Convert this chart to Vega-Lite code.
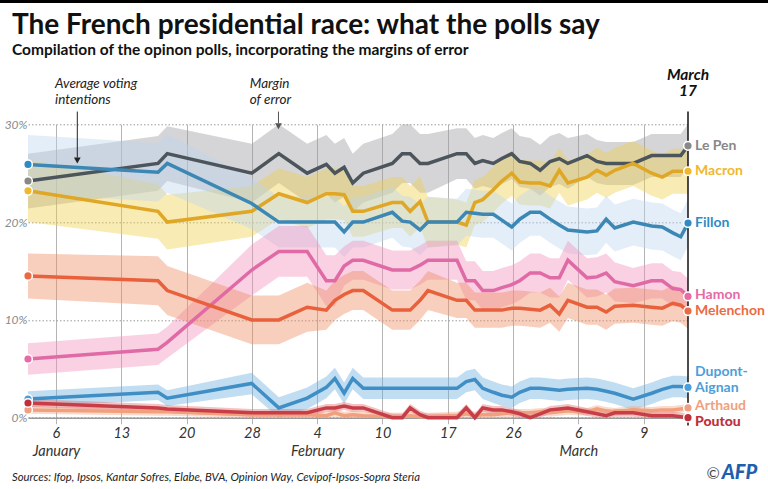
{
"$schema":"https://vega.github.io/schema/vega-lite/v6.json",
"autosize":{"type":"none"},
"width":660,"height":293.4,
"padding":{"left":28,"top":124.3,"right":80,"bottom":71.3},
"background":"white",
"title":{"text":"The French presidential race: what the polls say","subtitle":"Compilation of the opinon polls, incorporating the margins of error","anchor":"start","frame":"group","dx":-16,"offset":-59,"font":"Lato","fontSize":28,"fontWeight":"bold","color":"#111","subtitleFont":"Lato","subtitleFontSize":15.5,"subtitleFontWeight":"bold","subtitleColor":"#111","subtitlePadding":3},
"config":{"view":{"stroke":null},"font":"Lato"},
"datasets":{
"polls":[
{"c":"Le Pen","t":0,"v":24.2,"lo":21.4,"hi":27},
{"c":"Le Pen","t":19.7,"v":26,"lo":23.2,"hi":28.8},
{"c":"Le Pen","t":21.1,"v":27,"lo":24.2,"hi":29.8},
{"c":"Le Pen","t":33.9,"v":25,"lo":22,"hi":28},
{"c":"Le Pen","t":38,"v":27,"lo":24,"hi":30},
{"c":"Le Pen","t":42.3,"v":25,"lo":22,"hi":28},
{"c":"Le Pen","t":45.2,"v":25.9,"lo":22.9,"hi":28.9},
{"c":"Le Pen","t":46.5,"v":25,"lo":22,"hi":28},
{"c":"Le Pen","t":47.9,"v":25.6,"lo":22.6,"hi":28.6},
{"c":"Le Pen","t":49.2,"v":24,"lo":21,"hi":27},
{"c":"Le Pen","t":50.8,"v":25,"lo":22,"hi":28},
{"c":"Le Pen","t":55.2,"v":26,"lo":23,"hi":29},
{"c":"Le Pen","t":56.7,"v":27,"lo":24,"hi":30},
{"c":"Le Pen","t":57.9,"v":27,"lo":24,"hi":30},
{"c":"Le Pen","t":59.4,"v":26,"lo":23,"hi":29},
{"c":"Le Pen","t":60.6,"v":26,"lo":23,"hi":29},
{"c":"Le Pen","t":65,"v":27,"lo":24.4,"hi":29.6},
{"c":"Le Pen","t":66.4,"v":27,"lo":24.4,"hi":29.6},
{"c":"Le Pen","t":67.7,"v":26,"lo":23.4,"hi":28.6},
{"c":"Le Pen","t":68.9,"v":26.3,"lo":23.7,"hi":28.9},
{"c":"Le Pen","t":70.5,"v":26,"lo":23.4,"hi":28.6},
{"c":"Le Pen","t":71.8,"v":26.5,"lo":23.9,"hi":29.1},
{"c":"Le Pen","t":73.3,"v":27,"lo":24.4,"hi":29.6},
{"c":"Le Pen","t":74.5,"v":26.2,"lo":23.6,"hi":28.8},
{"c":"Le Pen","t":76.1,"v":26,"lo":23.4,"hi":28.6},
{"c":"Le Pen","t":77.6,"v":25.3,"lo":22.7,"hi":27.9},
{"c":"Le Pen","t":79.1,"v":26.2,"lo":23.6,"hi":28.8},
{"c":"Le Pen","t":80.5,"v":26.5,"lo":23.9,"hi":29.1},
{"c":"Le Pen","t":81.8,"v":26,"lo":23.4,"hi":28.6},
{"c":"Le Pen","t":84.7,"v":26.8,"lo":24.6,"hi":29},
{"c":"Le Pen","t":86.2,"v":26.2,"lo":24,"hi":28.4},
{"c":"Le Pen","t":87.6,"v":26,"lo":23.8,"hi":28.2},
{"c":"Le Pen","t":88.9,"v":26,"lo":23.8,"hi":28.2},
{"c":"Le Pen","t":91.7,"v":26,"lo":23.8,"hi":28.2},
{"c":"Le Pen","t":94.5,"v":26.8,"lo":24.6,"hi":29},
{"c":"Le Pen","t":96.1,"v":26.8,"lo":24.6,"hi":29},
{"c":"Le Pen","t":97.7,"v":26.8,"lo":24.6,"hi":29},
{"c":"Le Pen","t":98.9,"v":26.8,"lo":24.6,"hi":29},
{"c":"Le Pen","t":100,"v":27.8,"lo":25.6,"hi":30},
{"c":"Macron","t":0,"v":23.2,"lo":20,"hi":26.4},
{"c":"Macron","t":19.7,"v":21.1,"lo":18.3,"hi":23.9},
{"c":"Macron","t":21.1,"v":20,"lo":17.2,"hi":22.8},
{"c":"Macron","t":33.9,"v":21.1,"lo":18.5,"hi":23.7},
{"c":"Macron","t":38,"v":22.9,"lo":20.3,"hi":25.5},
{"c":"Macron","t":42.3,"v":22,"lo":19.4,"hi":24.6},
{"c":"Macron","t":45.2,"v":22.9,"lo":20.3,"hi":25.5},
{"c":"Macron","t":46.5,"v":22.9,"lo":20.3,"hi":25.5},
{"c":"Macron","t":47.9,"v":22.8,"lo":20.2,"hi":25.4},
{"c":"Macron","t":49.2,"v":21.1,"lo":18.5,"hi":23.7},
{"c":"Macron","t":50.8,"v":21.1,"lo":18.5,"hi":23.7},
{"c":"Macron","t":55.2,"v":22,"lo":19.4,"hi":24.6},
{"c":"Macron","t":56.7,"v":22,"lo":19.4,"hi":24.6},
{"c":"Macron","t":57.9,"v":21.1,"lo":18.5,"hi":23.7},
{"c":"Macron","t":59.4,"v":22.1,"lo":19.5,"hi":24.7},
{"c":"Macron","t":60.6,"v":20,"lo":17.4,"hi":22.6},
{"c":"Macron","t":65,"v":20,"lo":17.7,"hi":22.3},
{"c":"Macron","t":66.4,"v":19.7,"lo":17.4,"hi":22},
{"c":"Macron","t":67.7,"v":22,"lo":19.7,"hi":24.3},
{"c":"Macron","t":68.9,"v":22.3,"lo":20,"hi":24.6},
{"c":"Macron","t":70.5,"v":23.3,"lo":21,"hi":25.6},
{"c":"Macron","t":71.8,"v":24.2,"lo":21.9,"hi":26.5},
{"c":"Macron","t":73.3,"v":25,"lo":22.7,"hi":27.3},
{"c":"Macron","t":74.5,"v":24.1,"lo":21.8,"hi":26.4},
{"c":"Macron","t":76.1,"v":24,"lo":21.7,"hi":26.3},
{"c":"Macron","t":77.6,"v":24,"lo":21.7,"hi":26.3},
{"c":"Macron","t":79.1,"v":23.7,"lo":21.4,"hi":26},
{"c":"Macron","t":80.5,"v":25.3,"lo":23,"hi":27.6},
{"c":"Macron","t":81.8,"v":24,"lo":21.7,"hi":26.3},
{"c":"Macron","t":84.7,"v":24.6,"lo":22.3,"hi":26.9},
{"c":"Macron","t":86.2,"v":25.3,"lo":23,"hi":27.6},
{"c":"Macron","t":87.6,"v":24.8,"lo":22.5,"hi":27.1},
{"c":"Macron","t":88.9,"v":25.3,"lo":23,"hi":27.6},
{"c":"Macron","t":91.7,"v":26,"lo":23.7,"hi":28.3},
{"c":"Macron","t":94.5,"v":25,"lo":22.7,"hi":27.3},
{"c":"Macron","t":96.1,"v":24.6,"lo":22.3,"hi":26.9},
{"c":"Macron","t":97.7,"v":25.2,"lo":22.9,"hi":27.5},
{"c":"Macron","t":98.9,"v":25.2,"lo":22.9,"hi":27.5},
{"c":"Macron","t":100,"v":25.2,"lo":22.9,"hi":27.5},
{"c":"Fillon","t":0,"v":25.9,"lo":22.9,"hi":28.9},
{"c":"Fillon","t":19.7,"v":25.1,"lo":22.1,"hi":28.1},
{"c":"Fillon","t":21.1,"v":26,"lo":23,"hi":29},
{"c":"Fillon","t":33.9,"v":21.9,"lo":19.3,"hi":24.5},
{"c":"Fillon","t":38,"v":20,"lo":17.4,"hi":22.6},
{"c":"Fillon","t":42.3,"v":20,"lo":17.4,"hi":22.6},
{"c":"Fillon","t":45.2,"v":20,"lo":17.4,"hi":22.6},
{"c":"Fillon","t":46.5,"v":20,"lo":17.4,"hi":22.6},
{"c":"Fillon","t":47.9,"v":19,"lo":16.4,"hi":21.6},
{"c":"Fillon","t":49.2,"v":20,"lo":17.4,"hi":22.6},
{"c":"Fillon","t":50.8,"v":20,"lo":17.4,"hi":22.6},
{"c":"Fillon","t":55.2,"v":21,"lo":18.4,"hi":23.6},
{"c":"Fillon","t":56.7,"v":20.1,"lo":17.5,"hi":22.7},
{"c":"Fillon","t":57.9,"v":20,"lo":17.4,"hi":22.6},
{"c":"Fillon","t":59.4,"v":19.2,"lo":16.6,"hi":21.8},
{"c":"Fillon","t":60.6,"v":20,"lo":17.4,"hi":22.6},
{"c":"Fillon","t":65,"v":20,"lo":17.6,"hi":22.4},
{"c":"Fillon","t":66.4,"v":21,"lo":18.6,"hi":23.4},
{"c":"Fillon","t":67.7,"v":20.9,"lo":18.5,"hi":23.3},
{"c":"Fillon","t":68.9,"v":20.8,"lo":18.4,"hi":23.2},
{"c":"Fillon","t":70.5,"v":20.8,"lo":18.4,"hi":23.2},
{"c":"Fillon","t":71.8,"v":20.2,"lo":17.8,"hi":22.6},
{"c":"Fillon","t":73.3,"v":19.5,"lo":17.1,"hi":21.9},
{"c":"Fillon","t":74.5,"v":20.3,"lo":17.9,"hi":22.7},
{"c":"Fillon","t":76.1,"v":21,"lo":18.6,"hi":23.4},
{"c":"Fillon","t":77.6,"v":21,"lo":18.6,"hi":23.4},
{"c":"Fillon","t":79.1,"v":20.3,"lo":17.9,"hi":22.7},
{"c":"Fillon","t":80.5,"v":19.7,"lo":17.3,"hi":22.1},
{"c":"Fillon","t":81.8,"v":19.2,"lo":16.8,"hi":21.6},
{"c":"Fillon","t":84.7,"v":19,"lo":16.6,"hi":21.4},
{"c":"Fillon","t":86.2,"v":19.1,"lo":16.7,"hi":21.5},
{"c":"Fillon","t":87.6,"v":20.3,"lo":17.9,"hi":22.7},
{"c":"Fillon","t":88.9,"v":19.4,"lo":17,"hi":21.8},
{"c":"Fillon","t":91.7,"v":20,"lo":17.6,"hi":22.4},
{"c":"Fillon","t":94.5,"v":19.6,"lo":17.2,"hi":22},
{"c":"Fillon","t":96.1,"v":19.5,"lo":17.1,"hi":21.9},
{"c":"Fillon","t":97.7,"v":18.9,"lo":16.5,"hi":21.3},
{"c":"Fillon","t":98.9,"v":18.5,"lo":16.1,"hi":20.9},
{"c":"Fillon","t":100,"v":19.9,"lo":17.5,"hi":22.3},
{"c":"Hamon","t":0,"v":6,"lo":4.4,"hi":7.6},
{"c":"Hamon","t":19.7,"v":7,"lo":5.4,"hi":8.6},
{"c":"Hamon","t":21.1,"v":7.7,"lo":6.1,"hi":9.3},
{"c":"Hamon","t":33.9,"v":15.1,"lo":12.5,"hi":17.7},
{"c":"Hamon","t":38,"v":17,"lo":14.4,"hi":19.6},
{"c":"Hamon","t":42.3,"v":17,"lo":14.4,"hi":19.6},
{"c":"Hamon","t":45.2,"v":14,"lo":11.4,"hi":16.6},
{"c":"Hamon","t":46.5,"v":14,"lo":11.4,"hi":16.6},
{"c":"Hamon","t":47.9,"v":15.5,"lo":13.5,"hi":17.5},
{"c":"Hamon","t":49.2,"v":16.1,"lo":14.1,"hi":18.1},
{"c":"Hamon","t":50.8,"v":16.1,"lo":14.1,"hi":18.1},
{"c":"Hamon","t":55.2,"v":15.1,"lo":13.1,"hi":17.1},
{"c":"Hamon","t":56.7,"v":15.1,"lo":13.1,"hi":17.1},
{"c":"Hamon","t":57.9,"v":15.1,"lo":13.1,"hi":17.1},
{"c":"Hamon","t":59.4,"v":15.6,"lo":13.6,"hi":17.6},
{"c":"Hamon","t":60.6,"v":16.1,"lo":14.1,"hi":18.1},
{"c":"Hamon","t":65,"v":16.1,"lo":14.1,"hi":18.1},
{"c":"Hamon","t":66.4,"v":14,"lo":12,"hi":16},
{"c":"Hamon","t":67.7,"v":14,"lo":12,"hi":16},
{"c":"Hamon","t":68.9,"v":13,"lo":11,"hi":15},
{"c":"Hamon","t":70.5,"v":13,"lo":11,"hi":15},
{"c":"Hamon","t":71.8,"v":13.3,"lo":11.3,"hi":15.3},
{"c":"Hamon","t":73.3,"v":13.6,"lo":11.6,"hi":15.6},
{"c":"Hamon","t":74.5,"v":14,"lo":12,"hi":16},
{"c":"Hamon","t":76.1,"v":14.8,"lo":12.8,"hi":16.8},
{"c":"Hamon","t":77.6,"v":14.8,"lo":12.8,"hi":16.8},
{"c":"Hamon","t":79.1,"v":14.3,"lo":12.3,"hi":16.3},
{"c":"Hamon","t":80.5,"v":14.3,"lo":12.3,"hi":16.3},
{"c":"Hamon","t":81.8,"v":16.1,"lo":14.1,"hi":18.1},
{"c":"Hamon","t":84.7,"v":14.3,"lo":12.3,"hi":16.3},
{"c":"Hamon","t":86.2,"v":14.4,"lo":12.4,"hi":16.4},
{"c":"Hamon","t":87.6,"v":14.8,"lo":12.8,"hi":16.8},
{"c":"Hamon","t":88.9,"v":13.9,"lo":11.9,"hi":15.9},
{"c":"Hamon","t":91.7,"v":13.5,"lo":11.7,"hi":15.3},
{"c":"Hamon","t":94.5,"v":14,"lo":12.2,"hi":15.8},
{"c":"Hamon","t":96.1,"v":14,"lo":12.2,"hi":15.8},
{"c":"Hamon","t":97.7,"v":13.2,"lo":11.4,"hi":15},
{"c":"Hamon","t":98.9,"v":13.1,"lo":11.3,"hi":14.9},
{"c":"Hamon","t":100,"v":12.4,"lo":10.6,"hi":14.2},
{"c":"Melenchon","t":0,"v":14.5,"lo":12.2,"hi":16.8},
{"c":"Melenchon","t":19.7,"v":14,"lo":11.5,"hi":16.5},
{"c":"Melenchon","t":21.1,"v":13,"lo":10.5,"hi":15.5},
{"c":"Melenchon","t":33.9,"v":10,"lo":7.5,"hi":12.5},
{"c":"Melenchon","t":38,"v":10,"lo":7.5,"hi":12.5},
{"c":"Melenchon","t":42.3,"v":11.3,"lo":8.8,"hi":13.8},
{"c":"Melenchon","t":45.2,"v":11,"lo":9,"hi":13},
{"c":"Melenchon","t":46.5,"v":12,"lo":10,"hi":14},
{"c":"Melenchon","t":47.9,"v":12.6,"lo":10.6,"hi":14.6},
{"c":"Melenchon","t":49.2,"v":13,"lo":11,"hi":15},
{"c":"Melenchon","t":50.8,"v":13,"lo":11,"hi":15},
{"c":"Melenchon","t":55.2,"v":11,"lo":9,"hi":13},
{"c":"Melenchon","t":56.7,"v":11,"lo":9,"hi":13},
{"c":"Melenchon","t":57.9,"v":11,"lo":9,"hi":13},
{"c":"Melenchon","t":59.4,"v":12,"lo":10,"hi":14},
{"c":"Melenchon","t":60.6,"v":13,"lo":11,"hi":15},
{"c":"Melenchon","t":65,"v":12,"lo":10.2,"hi":13.8},
{"c":"Melenchon","t":66.4,"v":12,"lo":10.2,"hi":13.8},
{"c":"Melenchon","t":67.7,"v":11,"lo":9.2,"hi":12.8},
{"c":"Melenchon","t":68.9,"v":11,"lo":9.2,"hi":12.8},
{"c":"Melenchon","t":70.5,"v":11,"lo":9.2,"hi":12.8},
{"c":"Melenchon","t":71.8,"v":11,"lo":9.2,"hi":12.8},
{"c":"Melenchon","t":73.3,"v":11.2,"lo":9.4,"hi":13},
{"c":"Melenchon","t":74.5,"v":11.2,"lo":9.4,"hi":13},
{"c":"Melenchon","t":76.1,"v":11.1,"lo":9.3,"hi":12.9},
{"c":"Melenchon","t":77.6,"v":11,"lo":9.2,"hi":12.8},
{"c":"Melenchon","t":79.1,"v":11.5,"lo":9.7,"hi":13.3},
{"c":"Melenchon","t":80.5,"v":10.6,"lo":8.8,"hi":12.4},
{"c":"Melenchon","t":81.8,"v":12,"lo":10.2,"hi":13.8},
{"c":"Melenchon","t":84.7,"v":11.3,"lo":9.5,"hi":13.1},
{"c":"Melenchon","t":86.2,"v":11.3,"lo":9.5,"hi":13.1},
{"c":"Melenchon","t":87.6,"v":10.8,"lo":9,"hi":12.6},
{"c":"Melenchon","t":88.9,"v":11.4,"lo":9.6,"hi":13.2},
{"c":"Melenchon","t":91.7,"v":11.5,"lo":9.7,"hi":13.3},
{"c":"Melenchon","t":94.5,"v":11.3,"lo":9.5,"hi":13.1},
{"c":"Melenchon","t":96.1,"v":11.2,"lo":9.4,"hi":13},
{"c":"Melenchon","t":97.7,"v":11.7,"lo":9.9,"hi":13.5},
{"c":"Melenchon","t":98.9,"v":11.5,"lo":9.7,"hi":13.3},
{"c":"Melenchon","t":100,"v":10.9,"lo":9.1,"hi":12.7},
{"c":"Dupont-Aignan","t":0,"v":1.9,"lo":1.1,"hi":2.7},
{"c":"Dupont-Aignan","t":19.7,"v":2.6,"lo":1.8,"hi":3.4},
{"c":"Dupont-Aignan","t":21.1,"v":2,"lo":1.2,"hi":2.8},
{"c":"Dupont-Aignan","t":33.9,"v":3.5,"lo":2.4,"hi":4.6},
{"c":"Dupont-Aignan","t":38,"v":1,"lo":0,"hi":2.1},
{"c":"Dupont-Aignan","t":42.3,"v":2,"lo":0.9,"hi":3.1},
{"c":"Dupont-Aignan","t":45.2,"v":3.1,"lo":2,"hi":4.2},
{"c":"Dupont-Aignan","t":46.5,"v":4,"lo":2.9,"hi":5.1},
{"c":"Dupont-Aignan","t":47.9,"v":2.5,"lo":1.4,"hi":3.6},
{"c":"Dupont-Aignan","t":49.2,"v":4,"lo":2.9,"hi":5.1},
{"c":"Dupont-Aignan","t":50.8,"v":3,"lo":1.9,"hi":4.1},
{"c":"Dupont-Aignan","t":55.2,"v":3,"lo":1.9,"hi":4.1},
{"c":"Dupont-Aignan","t":56.7,"v":3,"lo":1.9,"hi":4.1},
{"c":"Dupont-Aignan","t":57.9,"v":3,"lo":1.9,"hi":4.1},
{"c":"Dupont-Aignan","t":59.4,"v":3,"lo":1.9,"hi":4.1},
{"c":"Dupont-Aignan","t":60.6,"v":3,"lo":1.9,"hi":4.1},
{"c":"Dupont-Aignan","t":65,"v":3,"lo":1.9,"hi":4.1},
{"c":"Dupont-Aignan","t":66.4,"v":3.7,"lo":2.6,"hi":4.8},
{"c":"Dupont-Aignan","t":67.7,"v":3.9,"lo":2.8,"hi":5},
{"c":"Dupont-Aignan","t":68.9,"v":3,"lo":1.9,"hi":4.1},
{"c":"Dupont-Aignan","t":70.5,"v":2.6,"lo":1.5,"hi":3.7},
{"c":"Dupont-Aignan","t":71.8,"v":2.3,"lo":1.2,"hi":3.4},
{"c":"Dupont-Aignan","t":73.3,"v":2.1,"lo":1,"hi":3.2},
{"c":"Dupont-Aignan","t":74.5,"v":2.6,"lo":1.5,"hi":3.7},
{"c":"Dupont-Aignan","t":76.1,"v":3,"lo":1.9,"hi":4.1},
{"c":"Dupont-Aignan","t":77.6,"v":3,"lo":1.9,"hi":4.1},
{"c":"Dupont-Aignan","t":79.1,"v":2.9,"lo":1.8,"hi":4},
{"c":"Dupont-Aignan","t":80.5,"v":2.8,"lo":1.7,"hi":3.9},
{"c":"Dupont-Aignan","t":81.8,"v":2.9,"lo":1.8,"hi":4},
{"c":"Dupont-Aignan","t":84.7,"v":3,"lo":1.9,"hi":4.1},
{"c":"Dupont-Aignan","t":86.2,"v":2.9,"lo":1.8,"hi":4},
{"c":"Dupont-Aignan","t":87.6,"v":2.7,"lo":1.6,"hi":3.8},
{"c":"Dupont-Aignan","t":88.9,"v":2.5,"lo":1.4,"hi":3.6},
{"c":"Dupont-Aignan","t":91.7,"v":1.9,"lo":0.8,"hi":3},
{"c":"Dupont-Aignan","t":94.5,"v":2.5,"lo":1.4,"hi":3.6},
{"c":"Dupont-Aignan","t":96.1,"v":2.9,"lo":1.8,"hi":4},
{"c":"Dupont-Aignan","t":97.7,"v":3.2,"lo":2.1,"hi":4.3},
{"c":"Dupont-Aignan","t":98.9,"v":3.2,"lo":2.1,"hi":4.3},
{"c":"Dupont-Aignan","t":100,"v":3.1,"lo":2,"hi":4.2},
{"c":"Arthaud","t":0,"v":0.8,"lo":0.4,"hi":1.2},
{"c":"Arthaud","t":19.7,"v":0.6,"lo":0.2,"hi":1},
{"c":"Arthaud","t":21.1,"v":0.6,"lo":0.2,"hi":1},
{"c":"Arthaud","t":33.9,"v":0.3,"lo":0,"hi":0.7},
{"c":"Arthaud","t":38,"v":0.3,"lo":0,"hi":0.7},
{"c":"Arthaud","t":42.3,"v":0.3,"lo":0,"hi":0.7},
{"c":"Arthaud","t":45.2,"v":0.2,"lo":0,"hi":0.6},
{"c":"Arthaud","t":46.5,"v":0.5,"lo":0.1,"hi":0.9},
{"c":"Arthaud","t":47.9,"v":0.2,"lo":0,"hi":0.6},
{"c":"Arthaud","t":49.2,"v":0.3,"lo":0,"hi":0.7},
{"c":"Arthaud","t":50.8,"v":0.2,"lo":0,"hi":0.6},
{"c":"Arthaud","t":55.2,"v":0.1,"lo":0,"hi":0.5},
{"c":"Arthaud","t":56.7,"v":0.1,"lo":0,"hi":0.5},
{"c":"Arthaud","t":57.9,"v":0.2,"lo":0,"hi":0.6},
{"c":"Arthaud","t":59.4,"v":0.1,"lo":0,"hi":0.5},
{"c":"Arthaud","t":60.6,"v":0.1,"lo":0,"hi":0.5},
{"c":"Arthaud","t":65,"v":0.2,"lo":0,"hi":0.6},
{"c":"Arthaud","t":66.4,"v":0.4,"lo":0,"hi":0.8},
{"c":"Arthaud","t":67.7,"v":0.2,"lo":0,"hi":0.6},
{"c":"Arthaud","t":68.9,"v":0.3,"lo":0,"hi":0.7},
{"c":"Arthaud","t":70.5,"v":0.3,"lo":0,"hi":0.7},
{"c":"Arthaud","t":71.8,"v":0.4,"lo":0,"hi":0.8},
{"c":"Arthaud","t":73.3,"v":0.5,"lo":0.1,"hi":0.9},
{"c":"Arthaud","t":74.5,"v":0.5,"lo":0.1,"hi":0.9},
{"c":"Arthaud","t":76.1,"v":0.5,"lo":0.1,"hi":0.9},
{"c":"Arthaud","t":77.6,"v":0.6,"lo":0.2,"hi":1},
{"c":"Arthaud","t":79.1,"v":0.5,"lo":0.1,"hi":0.9},
{"c":"Arthaud","t":80.5,"v":0.6,"lo":0.2,"hi":1},
{"c":"Arthaud","t":81.8,"v":0.7,"lo":0.3,"hi":1.1},
{"c":"Arthaud","t":84.7,"v":0.6,"lo":0.2,"hi":1},
{"c":"Arthaud","t":86.2,"v":0.9,"lo":0.5,"hi":1.3},
{"c":"Arthaud","t":87.6,"v":0.7,"lo":0.3,"hi":1.1},
{"c":"Arthaud","t":88.9,"v":0.6,"lo":0.2,"hi":1},
{"c":"Arthaud","t":91.7,"v":0.8,"lo":0.4,"hi":1.2},
{"c":"Arthaud","t":94.5,"v":0.7,"lo":0.3,"hi":1.1},
{"c":"Arthaud","t":96.1,"v":0.8,"lo":0.4,"hi":1.2},
{"c":"Arthaud","t":97.7,"v":0.8,"lo":0.4,"hi":1.2},
{"c":"Arthaud","t":98.9,"v":0.9,"lo":0.5,"hi":1.3},
{"c":"Arthaud","t":100,"v":1,"lo":0.6,"hi":1.4},
{"c":"Poutou","t":0,"v":1.5,"lo":1.1,"hi":1.9},
{"c":"Poutou","t":19.7,"v":1,"lo":0.6,"hi":1.4},
{"c":"Poutou","t":21.1,"v":0.9,"lo":0.5,"hi":1.3},
{"c":"Poutou","t":33.9,"v":0.5,"lo":0.1,"hi":0.9},
{"c":"Poutou","t":38,"v":0.5,"lo":0.1,"hi":0.9},
{"c":"Poutou","t":42.3,"v":0.5,"lo":0.1,"hi":0.9},
{"c":"Poutou","t":45.2,"v":1,"lo":0.6,"hi":1.4},
{"c":"Poutou","t":46.5,"v":1,"lo":0.6,"hi":1.4},
{"c":"Poutou","t":47.9,"v":1.2,"lo":0.8,"hi":1.6},
{"c":"Poutou","t":49.2,"v":1,"lo":0.6,"hi":1.4},
{"c":"Poutou","t":50.8,"v":1,"lo":0.6,"hi":1.4},
{"c":"Poutou","t":55.2,"v":0,"lo":0,"hi":0.4},
{"c":"Poutou","t":56.7,"v":0,"lo":0,"hi":0.4},
{"c":"Poutou","t":57.9,"v":1,"lo":0.6,"hi":1.4},
{"c":"Poutou","t":59.4,"v":0.3,"lo":0,"hi":0.7},
{"c":"Poutou","t":60.6,"v":0,"lo":0,"hi":0.4},
{"c":"Poutou","t":65,"v":0,"lo":0,"hi":0.4},
{"c":"Poutou","t":66.4,"v":1,"lo":0.6,"hi":1.4},
{"c":"Poutou","t":67.7,"v":0,"lo":0,"hi":0.4},
{"c":"Poutou","t":68.9,"v":1,"lo":0.6,"hi":1.4},
{"c":"Poutou","t":70.5,"v":0.8,"lo":0.4,"hi":1.2},
{"c":"Poutou","t":71.8,"v":0.8,"lo":0.4,"hi":1.2},
{"c":"Poutou","t":73.3,"v":0.6,"lo":0.2,"hi":1},
{"c":"Poutou","t":74.5,"v":0.4,"lo":0,"hi":0.8},
{"c":"Poutou","t":76.1,"v":0,"lo":0,"hi":0.4},
{"c":"Poutou","t":77.6,"v":0.4,"lo":0,"hi":0.8},
{"c":"Poutou","t":79.1,"v":0.8,"lo":0.4,"hi":1.2},
{"c":"Poutou","t":80.5,"v":0.9,"lo":0.5,"hi":1.3},
{"c":"Poutou","t":81.8,"v":1,"lo":0.6,"hi":1.4},
{"c":"Poutou","t":84.7,"v":0.6,"lo":0.2,"hi":1},
{"c":"Poutou","t":86.2,"v":0.4,"lo":0,"hi":0.8},
{"c":"Poutou","t":87.6,"v":0.2,"lo":0,"hi":0.6},
{"c":"Poutou","t":88.9,"v":0.5,"lo":0.1,"hi":0.9},
{"c":"Poutou","t":91.7,"v":0.5,"lo":0.1,"hi":0.9},
{"c":"Poutou","t":94.5,"v":0.2,"lo":0,"hi":0.6},
{"c":"Poutou","t":96.1,"v":0.2,"lo":0,"hi":0.6},
{"c":"Poutou","t":97.7,"v":0.2,"lo":0,"hi":0.6},
{"c":"Poutou","t":98.9,"v":0.1,"lo":0,"hi":0.5},
{"c":"Poutou","t":100,"v":0,"lo":0,"hi":0.4}
],
"labels":[
{"c":"Le Pen","label":"Le Pen","v":27.8},
{"c":"Macron","label":"Macron","v":25.2},
{"c":"Fillon","label":"Fillon","v":19.9},
{"c":"Hamon","label":"Hamon","v":12.4},
{"c":"Melenchon","label":"Melenchon","v":10.9},
{"c":"Dupont-Aignan","label":"Dupont-|Aignan","v":3.1},
{"c":"Arthaud","label":"Arthaud","v":1},
{"c":"Poutou","label":"Poutou","v":0}
],
"one":[{}]
},
"layer":[
{"data":{"name":"polls"},
 "mark":{"type":"area","fillOpacity":0.42},
 "encoding":{
  "x":{"field":"t","type":"quantitative","scale":{"domain":[0,100],"nice":false,"zero":false},
   "axis":{"values":[4.24,14.14,24.03,33.92,43.82,53.71,63.61,73.5,83.39,93.29],
    "labelExpr":"datum.value < 9 ? ['6','January'] : datum.value < 19 ? '13' : datum.value < 29 ? '20' : datum.value < 39 ? '28' : datum.value < 49 ? ['4','February'] : datum.value < 59 ? '10' : datum.value < 69 ? '17' : datum.value < 79 ? '26' : datum.value < 89 ? ['6','March'] : '9'",
    "title":null,"grid":true,"gridColor":"#b4b4b4","gridWidth":1,"ticks":true,"tickSize":6,"tickColor":"#b4b4b4","domain":true,"domainColor":"#9a9a9a","domainWidth":1.5,
    "labelFont":"Lato","labelFontStyle":"italic","labelFontSize":14.5,"labelColor":"#333","labelPadding":3,"labelLineHeight":18,"labelOverlap":false,"labelFlush":false,"labelBound":false,"labelBaseline":"top"}},
  "y":{"field":"lo","type":"quantitative","scale":{"domain":[0,30],"nice":false},
   "axis":{"values":[0,10,20,30],"labelExpr":"datum.value + '%'","title":null,"grid":true,"gridDash":[1.5,2],"gridColor":"#9a9a9a","domain":false,"ticks":false,
    "labelFont":"Lato","labelFontStyle":"italic","labelFontSize":12,"labelColor":"#8a8a8a","labelPadding":1}},
  "y2":{"field":"hi"},
  "fill":{"field":"c","type":"nominal","legend":null,
   "scale":{"domain":["Le Pen","Macron","Fillon","Hamon","Melenchon","Dupont-Aignan","Arthaud","Poutou"],
    "range":["#9b9b9f","#efd04a","#bcd6ef","#f391bd","#ee8a62","#6badde","#f1a787","#e17171"]}}
 }},
{"data":{"name":"polls"},
 "mark":{"type":"line","strokeWidth":3.5},
 "encoding":{
  "x":{"field":"t","type":"quantitative"},
  "y":{"field":"v","type":"quantitative"},
  "stroke":{"field":"c","type":"nominal","legend":null,
   "scale":{"domain":["Le Pen","Macron","Fillon","Hamon","Melenchon","Dupont-Aignan","Arthaud","Poutou"],
    "range":["#4b555b","#dfa725","#3d87b5","#e06aa6","#e8603c","#3f8fc6","#f0a07c","#c73e48"]}}
 }},
{"data":{"name":"one"},
 "mark":{"type":"rule","color":"#000","strokeWidth":3},
 "encoding":{"x":{"datum":-4.3},"x2":{"datum":112.2},"y":{"datum":42.56}}},
{"data":{"name":"one"},
 "mark":{"type":"rule","color":"#111","strokeWidth":1.5},
 "encoding":{"x":{"datum":100},"y":{"datum":31.3},"y2":{"datum":-0.8}}},
{"data":{"name":"polls"},
 "transform":[{"filter":"datum.t == 0 || datum.t == 100"}],
 "mark":{"type":"circle","size":75,"opacity":1,"stroke":"white","strokeWidth":1.5},
 "encoding":{
  "x":{"field":"t","type":"quantitative"},
  "y":{"field":"v","type":"quantitative"},
  "color":{"field":"c","type":"nominal","legend":null,
   "scale":{"domain":["Le Pen","Macron","Fillon","Hamon","Melenchon","Dupont-Aignan","Arthaud","Poutou"],
    "range":["#888888","#efb82e","#2f8bc4","#e56aa6","#ea6a45","#4d9ed8","#f0a080","#c0303a"]}}
 }},
{"data":{"name":"labels"},
 "transform":[{"filter":"datum.c != 'Dupont-Aignan' && datum.c != 'Arthaud' && datum.c != 'Poutou' && datum.c != 'Hamon'"}],
 "mark":{"type":"text","align":"left","baseline":"middle","dx":7,"font":"Lato","fontSize":14,"fontWeight":"bold"},
 "encoding":{"x":{"datum":100},"y":{"field":"v","type":"quantitative"},"text":{"field":"label"},"color":{"field":"c","type":"nominal","legend":null}}},
{"data":{"name":"labels"},
 "transform":[{"filter":"datum.c == 'Hamon'"}],
 "mark":{"type":"text","align":"left","baseline":"middle","dx":7,"dy":-1.5,"font":"Lato","fontSize":14,"fontWeight":"bold"},
 "encoding":{"x":{"datum":100},"y":{"field":"v","type":"quantitative"},"text":{"field":"label"},"color":{"field":"c","type":"nominal","legend":null}}},
{"data":{"name":"labels"},
 "transform":[{"filter":"datum.c == 'Dupont-Aignan'"}],
 "mark":{"type":"text","align":"left","baseline":"middle","dx":7,"dy":-15,"lineBreak":"|","lineHeight":16,"font":"Lato","fontSize":14,"fontWeight":"bold"},
 "encoding":{"x":{"datum":100},"y":{"field":"v","type":"quantitative"},"text":{"field":"label"},"color":{"field":"c","type":"nominal","legend":null}}},
{"data":{"name":"labels"},
 "transform":[{"filter":"datum.c == 'Arthaud'"}],
 "mark":{"type":"text","align":"left","baseline":"middle","dx":7,"dy":-2,"font":"Lato","fontSize":14,"fontWeight":"bold"},
 "encoding":{"x":{"datum":100},"y":{"field":"v","type":"quantitative"},"text":{"field":"label"},"color":{"field":"c","type":"nominal","legend":null}}},
{"data":{"name":"labels"},
 "transform":[{"filter":"datum.c == 'Poutou'"}],
 "mark":{"type":"text","align":"left","baseline":"middle","dx":7,"dy":4,"font":"Lato","fontSize":14,"fontWeight":900},
 "encoding":{"x":{"datum":100},"y":{"field":"v","type":"quantitative"},"text":{"field":"label"},"color":{"field":"c","type":"nominal","legend":null}}},
{"data":{"name":"one"},
 "mark":{"type":"rule","color":"#222","strokeWidth":1},
 "encoding":{"x":{"datum":7.47},"y":{"datum":31.3},"y2":{"datum":26.6}}},
{"data":{"name":"one"},
 "mark":{"type":"point","shape":"triangle-down","filled":true,"size":45,"color":"#222","opacity":1},
 "encoding":{"x":{"datum":7.47},"y":{"datum":26.3}}},
{"data":{"name":"one"},
 "mark":{"type":"rule","color":"#555","strokeWidth":1},
 "encoding":{"x":{"datum":37.95},"y":{"datum":31.3},"y2":{"datum":30.1}}},
{"data":{"name":"one"},
 "mark":{"type":"point","shape":"triangle-down","filled":true,"size":45,"color":"#555","opacity":1},
 "encoding":{"x":{"datum":37.95},"y":{"datum":29.8}}},
{"data":{"name":"one"},
 "mark":{"type":"text","text":["Average voting","intentions"],"align":"left","baseline":"alphabetic","font":"Lato","fontStyle":"italic","fontSize":13.5,"lineHeight":16,"color":"#222"},
 "encoding":{"x":{"datum":4.1},"y":{"datum":33.7}}},
{"data":{"name":"one"},
 "mark":{"type":"text","text":["Margin","of error"],"align":"left","baseline":"alphabetic","font":"Lato","fontStyle":"italic","fontSize":13.5,"lineHeight":16,"color":"#222"},
 "encoding":{"x":{"datum":33.6},"y":{"datum":33.7}}},
{"data":{"name":"one"},
 "mark":{"type":"text","text":["March","17"],"align":"center","baseline":"alphabetic","font":"Lato","fontStyle":"italic","fontWeight":"bold","fontSize":15.5,"lineHeight":16,"color":"#111"},
 "encoding":{"x":{"datum":100},"y":{"datum":34.5}}},
{"data":{"name":"one"},
 "mark":{"type":"text","text":"Sources: Ifop, Ipsos, Kantar Sofres, Elabe, BVA, Opinion Way, Cevipof-Ipsos-Sopra Steria","align":"left","baseline":"alphabetic","font":"Lato","fontStyle":"italic","fontSize":11.3,"color":"#222"},
 "encoding":{"x":{"datum":-2.42},"y":{"datum":-6.47}}},
{"data":{"name":"one"},
 "mark":{"type":"text","text":"©","align":"center","baseline":"alphabetic","font":"Lato","fontSize":16,"color":"#444"},
 "encoding":{"x":{"datum":103.8},"y":{"datum":-6.27}}},
{"data":{"name":"one"},
 "mark":{"type":"text","text":"AFP","align":"left","baseline":"alphabetic","font":"Lato","fontStyle":"italic","fontWeight":900,"fontSize":20,"color":"#1f5fae"},
 "encoding":{"x":{"datum":105.1},"y":{"datum":-6.27}}}
]
}
